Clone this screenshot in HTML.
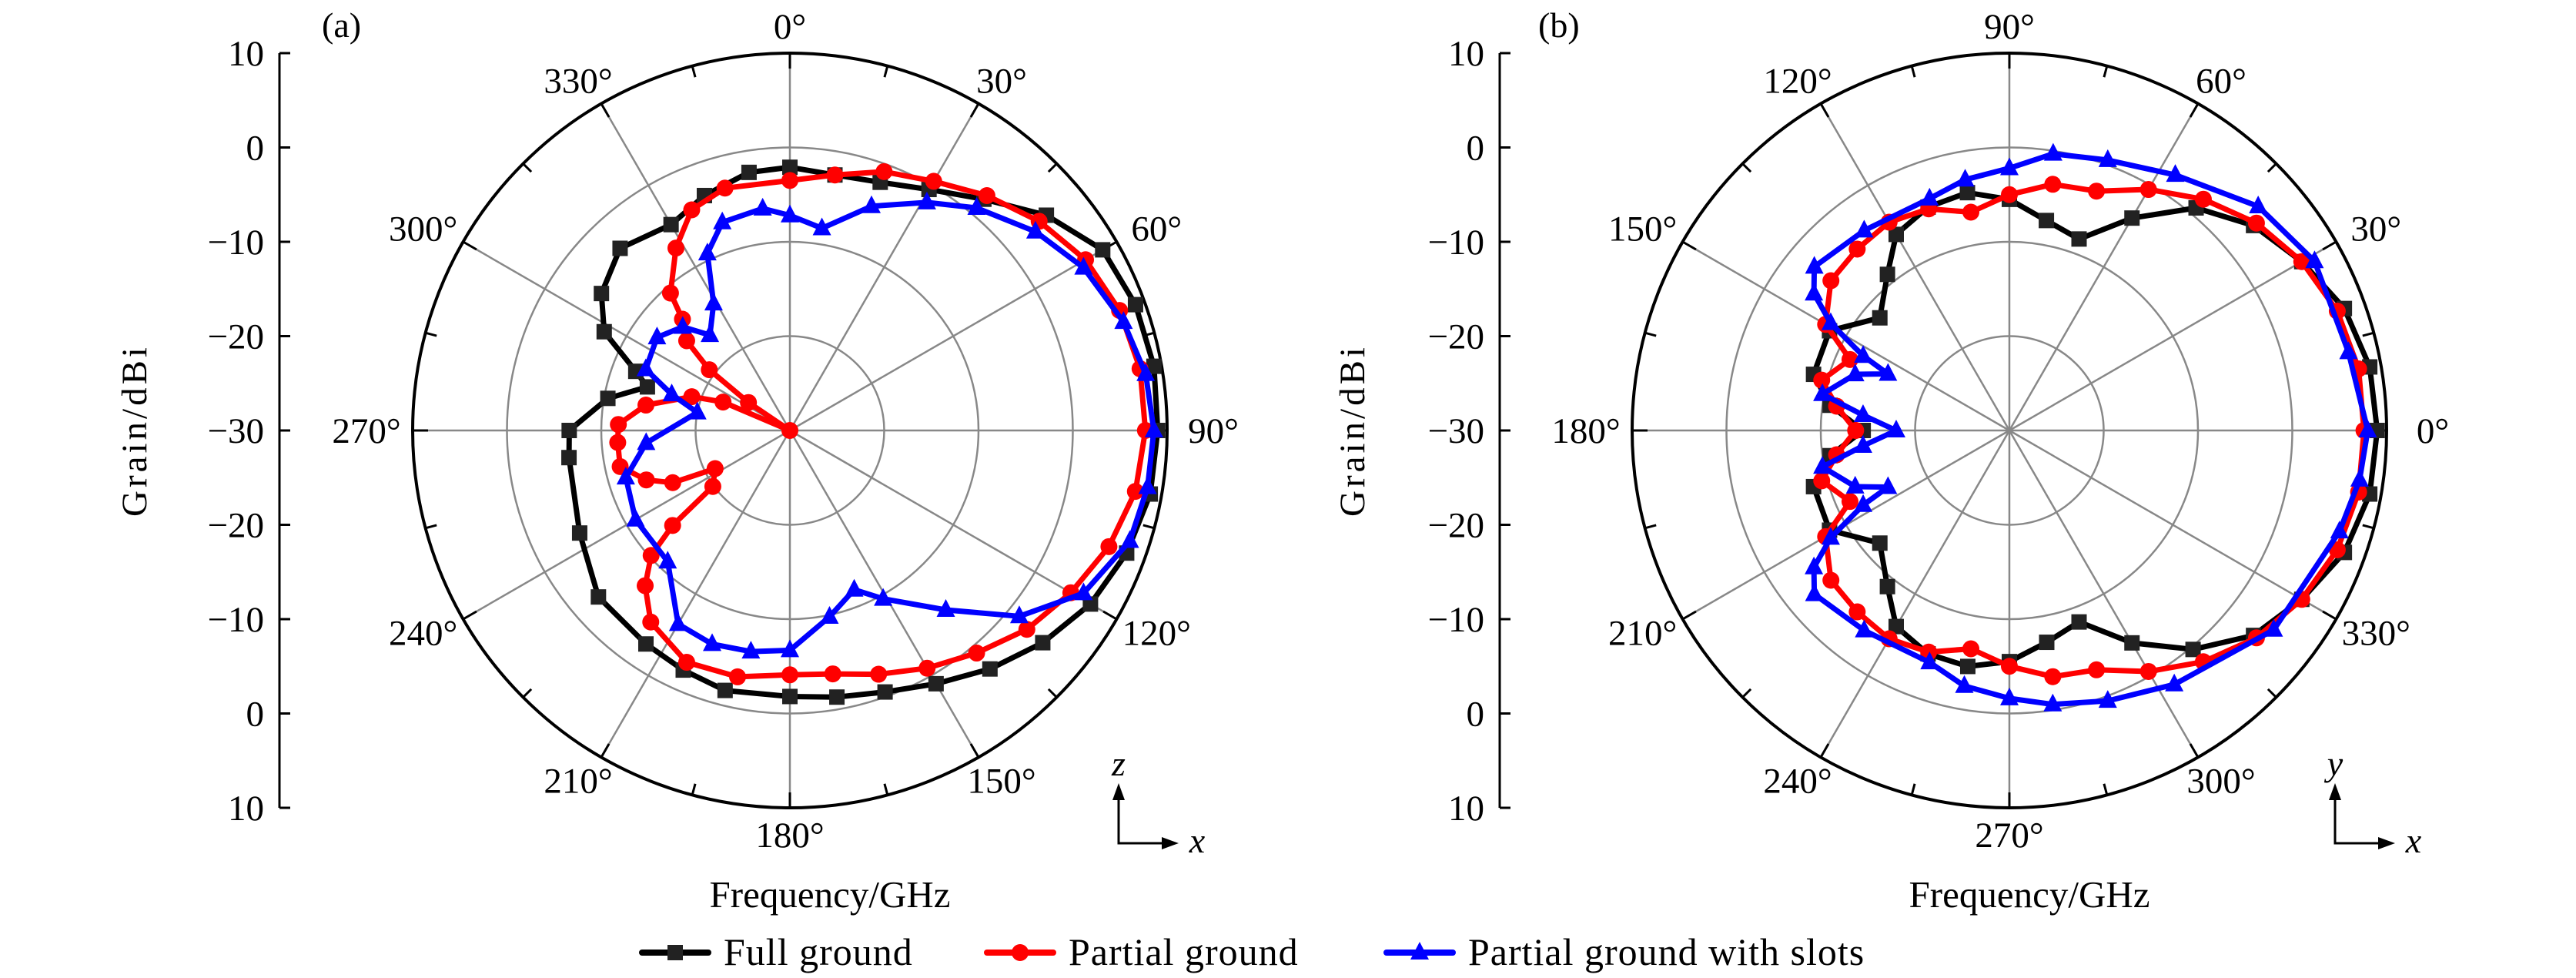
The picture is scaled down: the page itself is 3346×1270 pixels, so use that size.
<!DOCTYPE html>
<html><head><meta charset="utf-8"><style>
html,body{margin:0;padding:0;background:#fff;}
svg{display:block;font-family:"Liberation Serif",serif;}
</style></head><body>
<svg id="fig" width="3346" height="1270" viewBox="0 0 3346 1270" xmlns="http://www.w3.org/2000/svg"></svg>
<script>
// ---------- data ----------
const radialTicks = [10, 0, -10, -20, -30, -20, -10, 0, 10];
const ringValues = [-20, -10, 0];
const angleTicksA = [0, 30, 60, 90, 120, 150, 180, 210, 240, 270, 300, 330];
const angleTicksB = [0, 30, 60, 90, 120, 150, 180, 210, 240, 270, 300, 330];
const seriesNames = ["Full ground", "Partial ground", "Partial ground with slots"];

// Panel (a): angles in degrees (clockwise from top), gains in dBi
const aFullAng = [0,10,20,30,40,50,60,70,80,90,100,110,120,130,140,150,160,170,180,194,204,214,229,244,263,270,280,287,291,298,306,317,330,340,351];
const aFullGain = [-2.1,-2.5,-2.0,-0.5,2,5.5,8.3,9.0,9.2,9.0,8.8,8,6.8,5,3,1,-0.5,-1.3,-1.8,-1.6,-2.2,-2.7,-3.1,-5.2,-6.4,-6.6,-10.4,-14.2,-12.5,-7.7,-5.3,-3.6,-4.8,-3.5,-2.3];
const aPartAng = [0,10,20,30,40,50,60,70,80,90,100,110,120,130,140,150,160,170,180,192,204,216,223,228,231,234,243,246,251,258,266,272,280,289,293,298,304,307,311,316,319,328,336,345];
const aPartGain = [-3.5,-2.5,-0.8,0.5,2.5,4.5,6.2,7.2,7.7,7.7,7.2,6.0,4.4,2.8,0.8,-0.9,-2.5,-3.8,-4.1,-3.3,-3.1,-4.9,-7.5,-10.2,-14,-19.9,-21.1,-16.4,-13.9,-11.6,-11.7,-11.8,-14.5,-19,-22.3,-30,-24.7,-19.3,-15.5,-13.6,-10.7,-7.2,-4.4,-3.4];
const aSlotAng = [0,9,20,31,40,51,61,72,81,90,99,108,119,129,139,151,158,168,180,190,200,210,223,240,254,265,281,287,293,305,314,320,329,335,342,353];
const aSlotGain = [-7.2,-8.3,-4.7,-1.8,0.8,3.5,5.6,7.2,8.2,8.6,8.4,7.9,5.6,1.3,-4.8,-9.6,-11.8,-9.8,-6.7,-6.2,-5.9,-6.3,-11,-11.1,-11.9,-14.7,-20,-16.9,-13.4,-12.8,-14.2,-16.8,-14.3,-9.3,-6.8,-6.3];

// Panel (b): angles in degrees (counter-clockwise from right)
const bFullAng = [0,10,20,30,40,50,60,70,80,90,100,110,120,128,139,151,164,172,180,188,196,209,221,232,240,250,260,270,280,290,300,310,320,330,340,350];
const bFullGain = [9.0,8.8,7.8,5.8,3.8,0.8,-4.0,-8.4,-7.4,-5.5,-4.4,-4.8,-6,-9,-11.8,-8.2,-8.4,-10.8,-14.5,-10.8,-8.4,-8.2,-11.8,-9,-6,-4.8,-4.6,-5.5,-7.2,-8.4,-4.0,0.3,3.8,5.8,7.8,8.8];
const bPartAng = [0,10,20,30,40,50,60,70,80,90,100,110,120,130,140,150,156,165,172,180,188,195,204,210,220,230,240,250,260,270,280,290,300,310,320,330,340,350];
const bPartGain = [7.6,7.6,7,5.8,4.2,2,-0.5,-3.0,-3.5,-5.0,-6.5,-5.0,-4.5,-4.9,-5.3,-7.5,-11.5,-9.4,-11.5,-13.7,-11.5,-9.4,-11.5,-7.5,-5.3,-4.9,-4.5,-5,-6.5,-5,-3.5,-3.0,-0.5,2,4.2,5.8,7,7.6];
const bSlotAng = [0,13,29,42,57,70,81,90,100,109,126,140,145,149,153,155,160,169,174,180,186,191,200,205,207,211,215,220,234,251,260,270,279,290,303,323,343,352];
const bSlotGain = [8.0,6.9,7,5.5,2.3,0.5,-0.3,-2.2,-3,-4,-3.8,-3,-4.7,-7.9,-12.6,-15.8,-12.6,-9.8,-14.4,-18,-14.4,-9.8,-12.6,-15.8,-12.6,-7.9,-4.7,-3,-3.8,-4,-2.5,-1.6,-0.6,0.5,2.1,5.1,6.6,7.5];

// ---------- drawing ----------
const NS = "http://www.w3.org/2000/svg";
const svg = document.getElementById("fig");
function mk(tag, attrs, parent) {
  const e = document.createElementNS(NS, tag);
  for (const k in attrs) e.setAttribute(k, attrs[k]);
  (parent || svg).appendChild(e);
  return e;
}
const R = 490, RMIN = -30, RMAX = 10;
const colors = ["#000000", "#ff0000", "#0000ff"];
const markerKinds = ["square", "circle", "triangle"];
function rScale(g) { return (Math.max(g, RMIN) - RMIN) / (RMAX - RMIN) * R; }

function marker(kind, x, y, color, parent) {
  let m;
  if (kind === "square") {
    m = mk("rect", {x: x - 10, y: y - 10, width: 20, height: 20, fill: "#222"}, parent);
  } else if (kind === "circle") {
    m = mk("circle", {cx: x, cy: y, r: 11, fill: color}, parent);
  } else {
    m = mk("polygon", {points: `${x},${y-14} ${x-12},${y+9} ${x+12},${y+9}`, fill: color}, parent);
  }
  return m;
}

function panel(cfg) {
  const g = mk("g", {});
  
  
  const cx = cfg.cx, cy = cfg.cy;
  const toXY = (deg, gain) => {
    const r = rScale(gain);
    const t = deg * Math.PI / 180;
    if (cfg.mode === "a") return [cx + r * Math.sin(t), cy - r * Math.cos(t)];
    return [cx + r * Math.cos(t), cy - r * Math.sin(t)];
  };
  ringValues.forEach(v => {
    const c = mk("circle", {cx, cy, r: rScale(v), fill: "none", stroke: "#888", "stroke-width": 2.5}, g);
    
    
  });
  for (let d = 0; d < 360; d += 30) {
    const [x, y] = toXY(d, RMAX);
    const l = mk("line", {x1: cx, y1: cy, x2: x, y2: y, stroke: "#888", "stroke-width": 2.5}, g);
    
    
  }
  const oc = mk("circle", {cx, cy, r: R, fill: "none", stroke: "#000", "stroke-width": 4}, g);
  
  
  for (let d = 0; d < 360; d += 15) {
    const t = d * Math.PI / 180, len = d % 30 === 0 ? 20 : 15;
    const l = mk("line", {x1: cx + R * Math.cos(t), y1: cy + R * Math.sin(t), x2: cx + (R - len) * Math.cos(t), y2: cy + (R - len) * Math.sin(t), stroke: "#000", "stroke-width": 3}, g);
    
    
  }
  cfg.angleTicks.forEach(d => {
    const t = d * Math.PI / 180;
    const lrx = 550, lry = 525;
    let x, y;
    if (cfg.mode === "a") { x = cx + lrx * Math.sin(t); y = cy - lry * Math.cos(t); }
    else { x = cx + lrx * Math.cos(t); y = cy - lry * Math.sin(t); }
    const tx = mk("text", {x, y: y + 16, "font-size": 47, "text-anchor": "middle"}, g);
    tx.textContent = d + "°";
    
    
  });
  const ax = cfg.axisX, top = cy - R, bot = cy + R;
  const al = mk("line", {x1: ax, y1: top, x2: ax, y2: bot, stroke: "#000", "stroke-width": 3}, g);
  
  
  radialTicks.forEach((v, i) => {
    const y = top + i * (2 * R) / (radialTicks.length - 1);
    const tl = mk("line", {x1: ax, y1: y, x2: ax + 14, y2: y, stroke: "#000", "stroke-width": 3}, g);
    
    
    const tx = mk("text", {x: ax - 20, y: y + 16, "font-size": 47, "text-anchor": "end"}, g);
    tx.textContent = String(v).replace("-", "−");
    
    
  });
  const yt = mk("text", {x: 0, y: 0, "font-size": 47, "text-anchor": "middle", "letter-spacing": 4, transform: `translate(${cfg.ytitleX},${cy}) rotate(-90)`}, g);
  yt.textContent = "Grain/dBi";
  
  
  const xt = mk("text", {x: cfg.xtitleX, y: 1178, "font-size": 49, "text-anchor": "middle"}, g);
  xt.textContent = "Frequency/GHz";
  
  
  const pl = mk("text", {x: cfg.labelX, y: 48, "font-size": 46}, g);
  pl.textContent = cfg.label;
  
  
  cfg.series.forEach((s, si) => {
    const sg = mk("g", {}, g);
    
    
    const pts = s.ang.map((a, i) => toXY(a, s.gain[i]));
    const p = mk("polygon", {points: pts.map(q => q[0].toFixed(1) + "," + q[1].toFixed(1)).join(" "), fill: "none", stroke: colors[si], "stroke-width": 7, "stroke-linejoin": "round"}, sg);
    
    
    pts.forEach(q => {
      const m = marker(markerKinds[si], q[0], q[1], colors[si], sg);
      
      
    });
  });
  const ox = cfg.arrowX, oy = 1095;
  const ag = mk("g", {}, g);
  
  
  mk("polyline", {points: `${ox},${oy - 62} ${ox},${oy} ${ox + 62},${oy}`, fill: "none", stroke: "#000", "stroke-width": 3}, ag);
  mk("polygon", {points: `${ox},${oy - 78} ${ox - 8},${oy - 56} ${ox + 8},${oy - 56}`, fill: "#000"}, ag);
  mk("polygon", {points: `${ox + 78},${oy} ${ox + 56},${oy - 8} ${ox + 56},${oy + 8}`, fill: "#000"}, ag);
  const t1 = mk("text", {x: ox, y: oy - 88, "font-size": 46, "font-style": "italic", "text-anchor": "middle"}, ag);
  t1.textContent = cfg.upLabel;
  const t2 = mk("text", {x: ox + 102, y: oy + 12, "font-size": 46, "font-style": "italic", "text-anchor": "middle"}, ag);
  t2.textContent = "x";
}

panel({name: "panel-a", mode: "a", cx: 1026, cy: 559, axisX: 363, ytitleX: 190, xtitleX: 1078, labelX: 418, label: "(a)",
  angleTicks: angleTicksA, arrowX: 1453, upLabel: "z",
  series: [{ang: aFullAng, gain: aFullGain}, {ang: aPartAng, gain: aPartGain}, {ang: aSlotAng, gain: aSlotGain}]});
panel({name: "panel-b", mode: "b", cx: 2610, cy: 559, axisX: 1948, ytitleX: 1772, xtitleX: 2636, labelX: 1998, label: "(b)",
  angleTicks: angleTicksB, arrowX: 3033, upLabel: "y",
  series: [{ang: bFullAng, gain: bFullGain}, {ang: bPartAng, gain: bPartGain}, {ang: bSlotAng, gain: bSlotGain}]});

// legend
const legX = [834, 1282, 1801];
const lg = mk("g", {});


seriesNames.forEach((n, i) => {
  const eg = mk("g", {}, lg);
  
  
  mk("line", {x1: legX[i], y1: 1237, x2: legX[i] + 86, y2: 1237, stroke: colors[i], "stroke-width": 8, "stroke-linecap": "round"}, eg);
  marker(markerKinds[i], legX[i] + 43, 1237, colors[i], eg);
  const t = mk("text", {x: legX[i] + 106, y: 1253, "font-size": 50, "letter-spacing": 1}, eg);
  t.textContent = n;
});
</script>
</body></html>
